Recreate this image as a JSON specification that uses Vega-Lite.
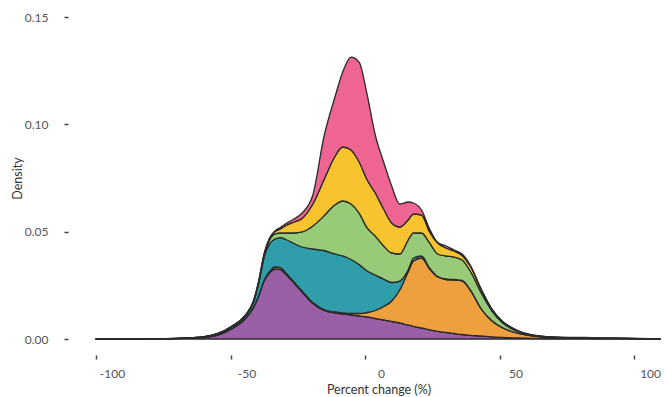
{
  "$schema": "https://vega.github.io/schema/vega-lite/v6.json",
  "width": 565,
  "height": 322,
  "autosize": {"type": "none"},
  "padding": {"left": 96, "top": 17, "right": 6, "bottom": 58},
  "background": "white",
  "config": {
    "view": {"stroke": null},
    "font": "Lato",
    "axis": {"grid": false, "domain": false, "tickColor": "#444", "tickWidth": 1.5, "tickSize": 4, "labelColor": "#555", "labelFontSize": 12, "labelFont": "Lato", "titleFont": "Lato", "titleFontSize": 12.5, "titleColor": "#333", "titleFontWeight": "normal"}
  },
  "data": {"values": [
    {"x":-100,"g":"A","d":0.0001},{"x":-100,"g":"B","d":0},{"x":-100,"g":"C","d":0},{"x":-100,"g":"D","d":0},{"x":-100,"g":"E","d":0},{"x":-100,"g":"F","d":0},
    {"x":-79.9,"g":"A","d":0.0001},{"x":-79.9,"g":"B","d":0},{"x":-79.9,"g":"C","d":0.00005},{"x":-79.9,"g":"D","d":0},{"x":-79.9,"g":"E","d":0},{"x":-79.9,"g":"F","d":0},
    {"x":-69.8,"g":"A","d":0.0002},{"x":-69.8,"g":"B","d":0},{"x":-69.8,"g":"C","d":0.0001},{"x":-69.8,"g":"D","d":0.00001},{"x":-69.8,"g":"E","d":0.00001},{"x":-69.8,"g":"F","d":0.00001},
    {"x":-64.7,"g":"A","d":0.0004},{"x":-64.7,"g":"B","d":0},{"x":-64.7,"g":"C","d":0.00014},{"x":-64.7,"g":"D","d":0.00002},{"x":-64.7,"g":"E","d":0.00002},{"x":-64.7,"g":"F","d":0.00001},
    {"x":-59.7,"g":"A","d":0.0008},{"x":-59.7,"g":"B","d":0},{"x":-59.7,"g":"C","d":0.00023},{"x":-59.7,"g":"D","d":0.00005},{"x":-59.7,"g":"E","d":0.00003},{"x":-59.7,"g":"F","d":0.00002},
    {"x":-54.7,"g":"A","d":0.0018},{"x":-54.7,"g":"B","d":0.00002},{"x":-54.7,"g":"C","d":0.00056},{"x":-54.7,"g":"D","d":0.0001},{"x":-54.7,"g":"E","d":0.0001},{"x":-54.7,"g":"F","d":0.00005},
    {"x":-49.6,"g":"A","d":0.00466},{"x":-49.6,"g":"B","d":0.00005},{"x":-49.6,"g":"C","d":0.00089},{"x":-49.6,"g":"D","d":0.00014},{"x":-49.6,"g":"E","d":0.0001},{"x":-49.6,"g":"F","d":0.0001},
    {"x":-44.6,"g":"A","d":0.00932},{"x":-44.6,"g":"B","d":0.0001},{"x":-44.6,"g":"C","d":0.00107},{"x":-44.6,"g":"D","d":0.00023},{"x":-44.6,"g":"E","d":0.00014},{"x":-44.6,"g":"F","d":0.0001},
    {"x":-41.5,"g":"A","d":0.01444},{"x":-41.5,"g":"B","d":0.00019},{"x":-41.5,"g":"C","d":0.00238},{"x":-41.5,"g":"D","d":0.00033},{"x":-41.5,"g":"E","d":0.00019},{"x":-41.5,"g":"F","d":0.00019},
    {"x":-39.5,"g":"A","d":0.02003},{"x":-39.5,"g":"B","d":0.00023},{"x":-39.5,"g":"C","d":0.00582},{"x":-39.5,"g":"D","d":0.0007},{"x":-39.5,"g":"E","d":0.00023},{"x":-39.5,"g":"F","d":0.00023},
    {"x":-37.5,"g":"A","d":0.02702},{"x":-37.5,"g":"B","d":0.00047},{"x":-37.5,"g":"C","d":0.01071},{"x":-37.5,"g":"D","d":0.00093},{"x":-37.5,"g":"E","d":0.00047},{"x":-37.5,"g":"F","d":0.00023},
    {"x":-35.5,"g":"A","d":0.03074},{"x":-35.5,"g":"B","d":0.0007},{"x":-35.5,"g":"C","d":0.01281},{"x":-35.5,"g":"D","d":0.00186},{"x":-35.5,"g":"E","d":0.0007},{"x":-35.5,"g":"F","d":0.00023},
    {"x":-33.5,"g":"A","d":0.03261},{"x":-33.5,"g":"B","d":0.00093},{"x":-33.5,"g":"C","d":0.01304},{"x":-33.5,"g":"D","d":0.00233},{"x":-33.5,"g":"E","d":0.00116},{"x":-33.5,"g":"F","d":0.00023},
    {"x":-31.5,"g":"A","d":0.03237},{"x":-31.5,"g":"B","d":0.00093},{"x":-31.5,"g":"C","d":0.01397},{"x":-31.5,"g":"D","d":0.0021},{"x":-31.5,"g":"E","d":0.00186},{"x":-31.5,"g":"F","d":0.0007},
    {"x":-29.4,"g":"A","d":0.03004},{"x":-29.4,"g":"B","d":0.0007},{"x":-29.4,"g":"C","d":0.0156},{"x":-29.4,"g":"D","d":0.00303},{"x":-29.4,"g":"E","d":0.00349},{"x":-29.4,"g":"F","d":0.00093},
    {"x":-26.4,"g":"A","d":0.02608},{"x":-26.4,"g":"B","d":0.00047},{"x":-26.4,"g":"C","d":0.01793},{"x":-26.4,"g":"D","d":0.00489},{"x":-26.4,"g":"E","d":0.00512},{"x":-26.4,"g":"F","d":0.0014},
    {"x":-23.4,"g":"A","d":0.02189},{"x":-23.4,"g":"B","d":0.00047},{"x":-23.4,"g":"C","d":0.0205},{"x":-23.4,"g":"D","d":0.00699},{"x":-23.4,"g":"E","d":0.00629},{"x":-23.4,"g":"F","d":0.00256},
    {"x":-19.4,"g":"A","d":0.01654},{"x":-19.4,"g":"B","d":0.00047},{"x":-19.4,"g":"C","d":0.02492},{"x":-19.4,"g":"D","d":0.01071},{"x":-19.4,"g":"E","d":0.01025},{"x":-19.4,"g":"F","d":0.00419},
    {"x":-15.3,"g":"A","d":0.01328},{"x":-15.3,"g":"B","d":0.00047},{"x":-15.3,"g":"C","d":0.02748},{"x":-15.3,"g":"D","d":0.01607},{"x":-15.3,"g":"E","d":0.01677},{"x":-15.3,"g":"F","d":0.02003},
    {"x":-11.3,"g":"A","d":0.01211},{"x":-11.3,"g":"B","d":0.00047},{"x":-11.3,"g":"C","d":0.02702},{"x":-11.3,"g":"D","d":0.02282},{"x":-11.3,"g":"E","d":0.02236},{"x":-11.3,"g":"F","d":0.02748},
    {"x":-8.3,"g":"A","d":0.01165},{"x":-8.3,"g":"B","d":0.00056},{"x":-8.3,"g":"C","d":0.02646},{"x":-8.3,"g":"D","d":0.02562},{"x":-8.3,"g":"E","d":0.02515},{"x":-8.3,"g":"F","d":0.03494},
    {"x":-5.2,"g":"A","d":0.01118},{"x":-5.2,"g":"B","d":0.0007},{"x":-5.2,"g":"C","d":0.02515},{"x":-5.2,"g":"D","d":0.02585},{"x":-5.2,"g":"E","d":0.02515},{"x":-5.2,"g":"F","d":0.04332},
    {"x":-2.2,"g":"A","d":0.01071},{"x":-2.2,"g":"B","d":0.00116},{"x":-2.2,"g":"C","d":0.02282},{"x":-2.2,"g":"D","d":0.02399},{"x":-2.2,"g":"E","d":0.02376},{"x":-2.2,"g":"F","d":0.04658},
    {"x":0.8,"g":"A","d":0.01025},{"x":0.8,"g":"B","d":0.0021},{"x":0.8,"g":"C","d":0.01933},{"x":0.8,"g":"D","d":0.02003},{"x":0.8,"g":"E","d":0.02236},{"x":0.8,"g":"F","d":0.03959},
    {"x":3.8,"g":"A","d":0.00955},{"x":3.8,"g":"B","d":0.00373},{"x":3.8,"g":"C","d":0.01654},{"x":3.8,"g":"D","d":0.01817},{"x":3.8,"g":"E","d":0.02003},{"x":3.8,"g":"F","d":0.02702},
    {"x":6.9,"g":"A","d":0.00885},{"x":6.9,"g":"B","d":0.00629},{"x":6.9,"g":"C","d":0.01281},{"x":6.9,"g":"D","d":0.01537},{"x":6.9,"g":"E","d":0.01723},{"x":6.9,"g":"F","d":0.02189},
    {"x":9.9,"g":"A","d":0.00815},{"x":9.9,"g":"B","d":0.00955},{"x":9.9,"g":"C","d":0.00862},{"x":9.9,"g":"D","d":0.01374},{"x":9.9,"g":"E","d":0.01397},{"x":9.9,"g":"F","d":0.01723},
    {"x":12.9,"g":"A","d":0.00745},{"x":12.9,"g":"B","d":0.01537},{"x":12.9,"g":"C","d":0.00419},{"x":12.9,"g":"D","d":0.01258},{"x":12.9,"g":"E","d":0.01258},{"x":12.9,"g":"F","d":0.01071},
    {"x":16.0,"g":"A","d":0.00652},{"x":16.0,"g":"B","d":0.02469},{"x":16.0,"g":"C","d":0.00093},{"x":16.0,"g":"D","d":0.01397},{"x":16.0,"g":"E","d":0.00932},{"x":16.0,"g":"F","d":0.00838},
    {"x":18.0,"g":"A","d":0.00592},{"x":18.0,"g":"B","d":0.03042},{"x":18.0,"g":"C","d":0.0014},{"x":18.0,"g":"D","d":0.01165},{"x":18.0,"g":"E","d":0.00885},{"x":18.0,"g":"F","d":0.00512},
    {"x":21.0,"g":"A","d":0.00512},{"x":21.0,"g":"B","d":0.03261},{"x":21.0,"g":"C","d":0.00093},{"x":21.0,"g":"D","d":0.01071},{"x":21.0,"g":"E","d":0.00838},{"x":21.0,"g":"F","d":0.00233},
    {"x":24.0,"g":"A","d":0.00429},{"x":24.0,"g":"B","d":0.02832},{"x":24.0,"g":"C","d":0.00047},{"x":24.0,"g":"D","d":0.01165},{"x":24.0,"g":"E","d":0.00512},{"x":24.0,"g":"F","d":0.0014},
    {"x":27.0,"g":"A","d":0.00359},{"x":27.0,"g":"B","d":0.02529},{"x":27.0,"g":"C","d":0.00023},{"x":27.0,"g":"D","d":0.01048},{"x":27.0,"g":"E","d":0.00512},{"x":27.0,"g":"F","d":0.00023},
    {"x":30.1,"g":"A","d":0.00303},{"x":30.1,"g":"B","d":0.02469},{"x":30.1,"g":"C","d":0.00023},{"x":30.1,"g":"D","d":0.01071},{"x":30.1,"g":"E","d":0.00373},{"x":30.1,"g":"F","d":0.00093},
    {"x":33.1,"g":"A","d":0.00256},{"x":33.1,"g":"B","d":0.02492},{"x":33.1,"g":"C","d":0.00023},{"x":33.1,"g":"D","d":0.01048},{"x":33.1,"g":"E","d":0.0028},{"x":33.1,"g":"F","d":0.00047},
    {"x":36.1,"g":"A","d":0.0021},{"x":36.1,"g":"B","d":0.02492},{"x":36.1,"g":"C","d":0.00023},{"x":36.1,"g":"D","d":0.00955},{"x":36.1,"g":"E","d":0.0021},{"x":36.1,"g":"F","d":0.0007},
    {"x":39.1,"g":"A","d":0.00172},{"x":39.1,"g":"B","d":0.0211},{"x":39.1,"g":"C","d":0.00014},{"x":39.1,"g":"D","d":0.00871},{"x":39.1,"g":"E","d":0.00233},{"x":39.1,"g":"F","d":0.00047},
    {"x":43.2,"g":"A","d":0.0014},{"x":43.2,"g":"B","d":0.01258},{"x":43.2,"g":"C","d":0.0001},{"x":43.2,"g":"D","d":0.00736},{"x":43.2,"g":"E","d":0.0014},{"x":43.2,"g":"F","d":0.00047},
    {"x":47.2,"g":"A","d":0.00102},{"x":47.2,"g":"B","d":0.00736},{"x":47.2,"g":"C","d":0.0001},{"x":47.2,"g":"D","d":0.00456},{"x":47.2,"g":"E","d":0.0007},{"x":47.2,"g":"F","d":0.00023},
    {"x":51.2,"g":"A","d":0.00075},{"x":51.2,"g":"B","d":0.00438},{"x":51.2,"g":"C","d":0.0001},{"x":51.2,"g":"D","d":0.00224},{"x":51.2,"g":"E","d":0.00047},{"x":51.2,"g":"F","d":0.00023},
    {"x":56.3,"g":"A","d":0.00047},{"x":56.3,"g":"B","d":0.00233},{"x":56.3,"g":"C","d":0.00005},{"x":56.3,"g":"D","d":0.00089},{"x":56.3,"g":"E","d":0.00023},{"x":56.3,"g":"F","d":0.00023},
    {"x":61.3,"g":"A","d":0.00033},{"x":61.3,"g":"B","d":0.0013},{"x":61.3,"g":"C","d":0.00005},{"x":61.3,"g":"D","d":0.00028},{"x":61.3,"g":"E","d":0.0001},{"x":61.3,"g":"F","d":0.0001},
    {"x":66.4,"g":"A","d":0.00023},{"x":66.4,"g":"B","d":0.0007},{"x":66.4,"g":"C","d":0.00005},{"x":66.4,"g":"D","d":0.00014},{"x":66.4,"g":"E","d":0.00005},{"x":66.4,"g":"F","d":0.00005},
    {"x":71.4,"g":"A","d":0.00019},{"x":71.4,"g":"B","d":0.00042},{"x":71.4,"g":"C","d":0.00005},{"x":71.4,"g":"D","d":0.0001},{"x":71.4,"g":"E","d":0.00005},{"x":71.4,"g":"F","d":0.00005},
    {"x":76.5,"g":"A","d":0.00019},{"x":76.5,"g":"B","d":0.00033},{"x":76.5,"g":"C","d":0.00005},{"x":76.5,"g":"D","d":0.00005},{"x":76.5,"g":"E","d":0.00005},{"x":76.5,"g":"F","d":0.00005},
    {"x":81.5,"g":"A","d":0.00014},{"x":81.5,"g":"B","d":0.00033},{"x":81.5,"g":"C","d":0.00005},{"x":81.5,"g":"D","d":0.00005},{"x":81.5,"g":"E","d":0.00005},{"x":81.5,"g":"F","d":0.0001},
    {"x":86.5,"g":"A","d":0.0001},{"x":86.5,"g":"B","d":0.00023},{"x":86.5,"g":"C","d":0.00003},{"x":86.5,"g":"D","d":0.00003},{"x":86.5,"g":"E","d":0.00003},{"x":86.5,"g":"F","d":0.00005},
    {"x":91.6,"g":"A","d":0.0001},{"x":91.6,"g":"B","d":0.00019},{"x":91.6,"g":"C","d":0.00003},{"x":91.6,"g":"D","d":0.00003},{"x":91.6,"g":"E","d":0.00003},{"x":91.6,"g":"F","d":0.00003},
    {"x":101.7,"g":"A","d":0.00005},{"x":101.7,"g":"B","d":0.0001},{"x":101.7,"g":"C","d":0.00002},{"x":101.7,"g":"D","d":0.00002},{"x":101.7,"g":"E","d":0.00002},{"x":101.7,"g":"F","d":0.00002},
    {"x":109.7,"g":"A","d":0.00002},{"x":109.7,"g":"B","d":0.00005},{"x":109.7,"g":"C","d":0.00001},{"x":109.7,"g":"D","d":0.00001},{"x":109.7,"g":"E","d":0.00001},{"x":109.7,"g":"F","d":0.00001}
  ]},
  "mark": {"type": "area", "interpolate": "monotone", "stroke": "#2a2a2a", "strokeWidth": 1.3, "strokeJoin": "round", "fillOpacity": 1},
  "encoding": {
    "x": {"field": "x", "type": "quantitative", "scale": {"domain": [-100, 110], "nice": false, "zero": false},
      "axis": {"values": [-100, -50, 0, 50, 100], "labelExpr": "toString(datum.value)", "title": "Percent change (%)", "offset": 16, "labelPadding": 9, "labelOffset": 16, "titlePadding": 4, "labelFlush": false}},
    "y": {"field": "d", "type": "quantitative", "stack": "zero", "scale": {"domain": [0, 0.15], "nice": false},
      "axis": {"values": [0, 0.05, 0.1, 0.15], "format": ".2f", "title": "Density", "offset": 28, "labelPadding": 16, "titlePadding": 0}},
    "color": {"field": "g", "type": "nominal", "legend": null,
      "scale": {"domain": ["A", "B", "C", "D", "E", "F"], "range": ["#9A5FA6", "#EDA03D", "#2F9DAA", "#97CB78", "#F7C42F", "#EE6592"]}},
    "order": {"field": "g", "sort": "ascending"}
  }
}
